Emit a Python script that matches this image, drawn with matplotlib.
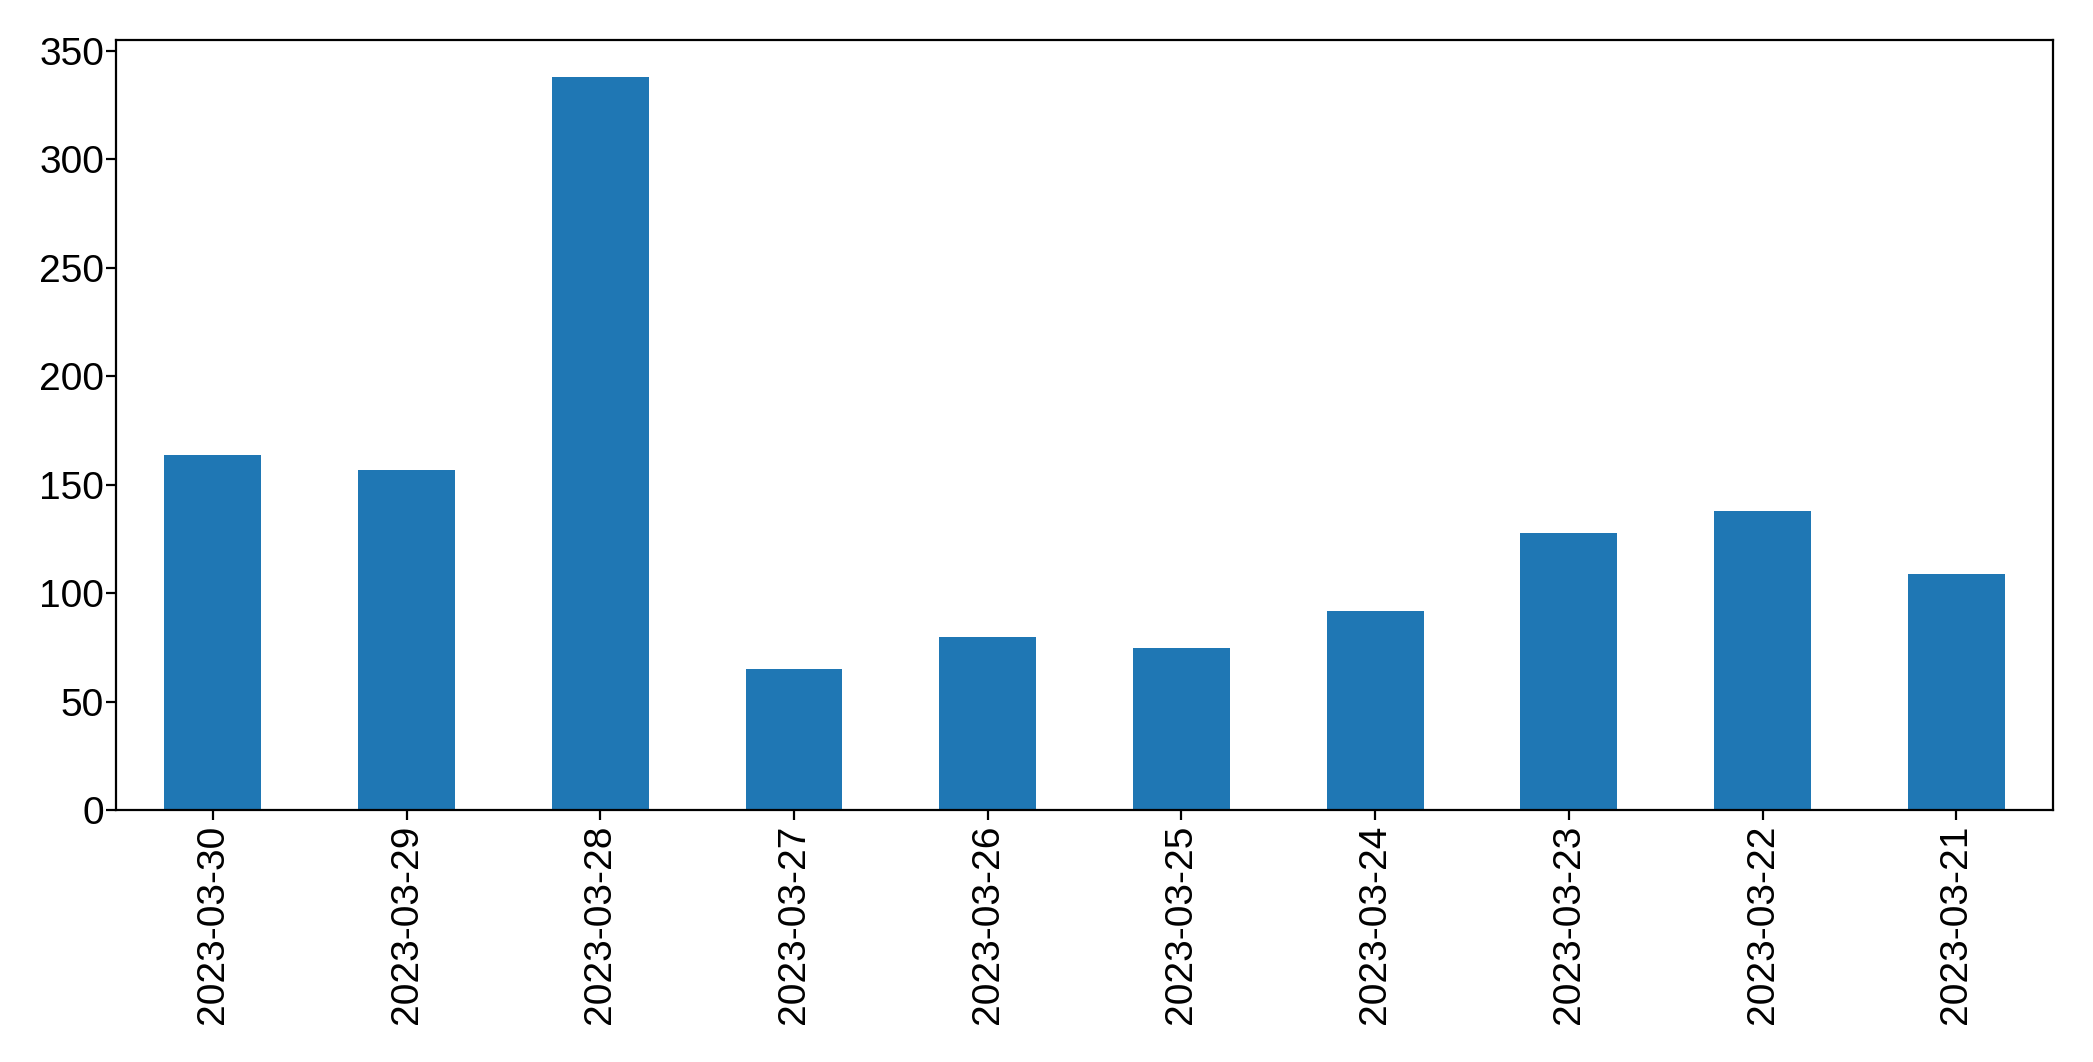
import matplotlib
matplotlib.use("Agg")
import matplotlib.pyplot as plt
import pandas as pd

dates = ["2023-03-30", "2023-03-29", "2023-03-28", "2023-03-27", "2023-03-26",
         "2023-03-25", "2023-03-24", "2023-03-23", "2023-03-22", "2023-03-21"]
counts = [164, 157, 338, 65, 80, 75, 92, 128, 138, 109]

plt.rcParams["font.family"] = ["Liberation Sans", "DejaVu Sans"]

s = pd.Series(counts, index=dates)

fig = plt.figure(figsize=(10.465, 5.31), dpi=200)
ax = fig.add_subplot(111)
s.plot(kind="bar", ax=ax, color="#1f77b4")
ax.tick_params(axis="both", labelsize=14)
ax.tick_params(axis="y", pad=0.8)
ax.tick_params(axis="x", pad=1.7)
fig.subplots_adjust(left=0.0554, right=0.981, bottom=0.237, top=0.962)
fig.savefig("out.png", dpi=200)
plt.close(fig)
